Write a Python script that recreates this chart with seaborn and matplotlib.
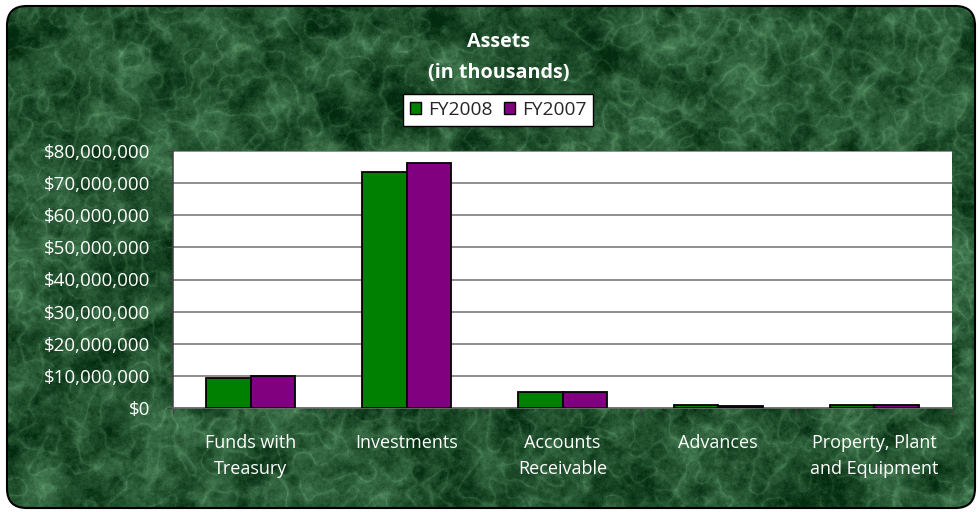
import numpy as np
import pandas as pd
import matplotlib
matplotlib.use("Agg")
import matplotlib.pyplot as plt
import seaborn as sns
from matplotlib.patches import FancyBboxPatch, Rectangle
from matplotlib.ticker import FuncFormatter, MultipleLocator, FixedLocator

categories = ["Funds with\nTreasury", "Investments", "Accounts\nReceivable", "Advances",
              "Property, Plant\nand Equipment"]
fy2008 = [9300000, 73600000, 4950000, 1000000, 1000000]
fy2007 = [9900000, 76200000, 4950000, 500000, 1000000]
series = ["FY2008", "FY2007"]
colors = {"FY2008": "#008000", "FY2007": "#800080"}

df = pd.DataFrame({
    "category": categories * 2,
    "value": fy2008 + fy2007,
    "series": ["FY2008"] * len(categories) + ["FY2007"] * len(categories),
})

sns.set_theme(style="white")
plt.rcParams["font.family"] = ["Open Sans", "DejaVu Sans"]

W, H = 979, 512
fig = plt.figure(figsize=(W / 100, H / 100), dpi=100)
fig.patch.set_facecolor("white")

# decorative marble-like green background texture
bg = fig.add_axes([0, 0, 1, 1], zorder=0)
rng = np.random.default_rng(7)
ky = np.fft.fftfreq(H)[:, None]
kx = np.fft.fftfreq(W)[None, :]
k = np.sqrt(kx ** 2 + ky ** 2)
def band(scale):
    n = rng.standard_normal((H, W))
    f = np.fft.fft2(n) * np.exp(-(k * scale) ** 2)
    r = np.real(np.fft.ifft2(f))
    return (r - r.mean()) / r.std()
cloud = 0.6 * band(60) + 0.35 * band(20) + 0.25 * band(6) + 0.18 * band(1.5)
veins = np.exp(-np.abs(band(25)) * 3.0)
val = 0.26 + 0.15 * cloud + 0.22 * veins
val = np.clip(val, 0, 1)
dark = np.array([0.01, 0.17, 0.06])
light = np.array([0.45, 0.70, 0.50])
img = dark[None, None, :] + (light - dark)[None, None, :] * val[..., None]
img = np.clip(img, 0, 1)
im = bg.imshow(img, extent=[0, 1, 0, 1], aspect="auto", origin="upper",
               transform=bg.transAxes)
bg.set_xlim(0, 1)
bg.set_ylim(0, 1)
bg.axis("off")
frame = FancyBboxPatch((7 / W, 4 / H), (W - 11) / W, (H - 10) / H,
                       boxstyle="round,pad=0,rounding_size=0.02",
                       transform=bg.transAxes, facecolor="none", edgecolor="black",
                       linewidth=1.5, mutation_aspect=W / H)
bg.add_patch(frame)
im.set_clip_path(frame)

# main axes
ax = fig.add_axes([173 / W, 1 - 408 / H, (952 - 173) / W, (408 - 151) / H], zorder=1)
ax.set_facecolor("white")
sns.barplot(data=df, x="category", y="value", hue="series", hue_order=series,
            palette=colors, width=0.57, edgecolor="black", linewidth=1.3,
            saturation=1, ax=ax, zorder=3)
if ax.get_legend() is not None:
    ax.get_legend().remove()

ax.set_ylim(0, 80000000)
ax.set_xlim(-0.5, len(categories) - 0.5)
ax.yaxis.set_major_locator(MultipleLocator(10000000))
ax.yaxis.set_major_formatter(FuncFormatter(lambda v, p: f"${v:,.0f}"))
ax.grid(axis="y", color="#707070", linewidth=1.1, zorder=0)
ax.set_axisbelow(True)
for s in ["top", "right"]:
    ax.spines[s].set_visible(False)
ax.spines["left"].set_color("#404040")
ax.spines["bottom"].set_color("#707070")
ax.spines["left"].set_linewidth(1.1)
ax.spines["bottom"].set_linewidth(1.1)
ax.tick_params(axis="y", which="major", left=True, length=4.5, width=1, color="#404040",
               labelcolor="white", labelsize=13.5, pad=12)
ax.tick_params(axis="x", which="major", bottom=False, labelcolor="white", labelsize=13,
               pad=13)
ax.xaxis.set_minor_locator(FixedLocator(np.arange(-0.5, len(categories), 1.0)))
ax.tick_params(axis="x", which="minor", bottom=True, length=4, width=1, color="#404040")
for lbl in ax.get_xticklabels():
    lbl.set_linespacing(1.55)
ax.set_xlabel("")
ax.set_ylabel("")

fig.text(0.5097, 1 - 42 / H, "Assets", ha="center", va="center", color="white",
         fontsize=14.2, fontweight="bold")
fig.text(0.5097, 1 - 73 / H, "(in thousands)", ha="center", va="center", color="white",
         fontsize=14.2, fontweight="bold")

handles = [Rectangle((0, 0), 1, 1, facecolor=colors[s], edgecolor="black", linewidth=1)
           for s in series]
leg = fig.legend(handles, series, loc="center", bbox_to_anchor=(498 / W, 1 - 110 / H),
                 ncol=2, frameon=True, fontsize=13.8, handlelength=0.6, handleheight=0.6,
                 handletextpad=0.35, columnspacing=0.6, borderpad=0.35, fancybox=False,
                 framealpha=1)
leg.get_frame().set_edgecolor("black")
leg.get_frame().set_facecolor("white")
leg.get_frame().set_linewidth(1)
leg.set_zorder(5)

fig.savefig("out.png", dpi=100)
